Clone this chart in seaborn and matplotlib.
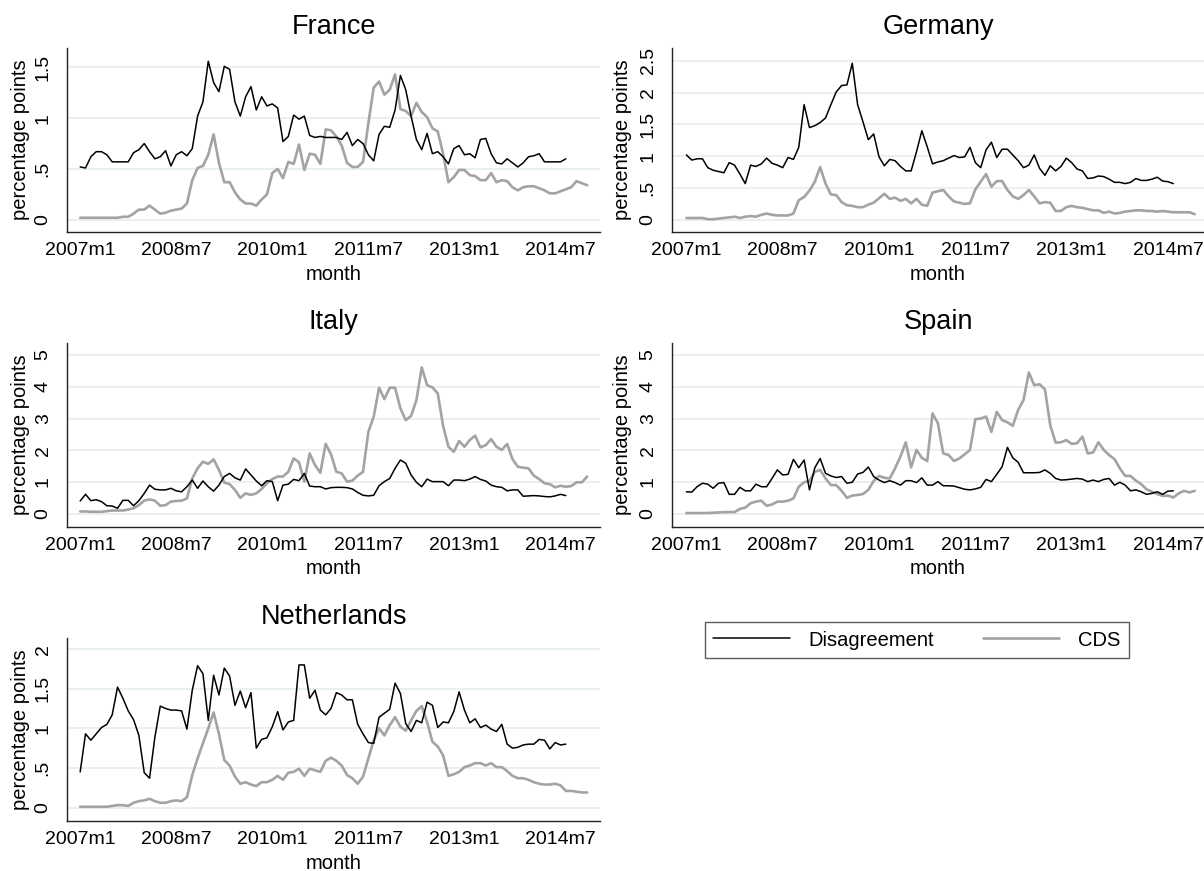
import numpy as np
import pandas as pd
import matplotlib
matplotlib.use("Agg")
import matplotlib.pyplot as plt
from matplotlib.lines import Line2D
import seaborn as sns

# ---------------- data ----------------
month_labels = ["2007m1", "2008m7", "2010m1", "2011m7", "2013m1", "2014m7"]
month_ticks = [0, 18, 36, 54, 72, 90]

france_dis = [.52,.51,.62,.67,.67,.64,.57,.57,.57,.57,
              .66,.69,.75,.67,.60,.62,.68,.53,.64,.67,
              .63,.70,1.02,1.16,1.56,1.35,1.26,1.51,1.48,1.16,
              1.02,1.21,1.31,1.08,1.21,1.12,1.14,1.10,.77,.82,
              1.03,.99,1.02,.83,.81,.82,.81,.81,.81,.79,
              .86,.73,.79,.75,.64,.58,.84,.92,.91,1.08,
              1.42,1.28,1.02,.79,.69,.85,.65,.67,.62,.55,
              .70,.73,.64,.65,.61,.79,.80,.65,.56,.55,
              .60,.56,.52,.56,.62,.63,.65,.57,.57,.57,
              .57,.60]
france_cds = [.02,.02,.02,.02,.02,.02,.02,.02,.03,.03,
              .06,.10,.10,.14,.10,.06,.07,.09,.10,.11,
              .16,.39,.51,.53,.64,.84,.56,.37,.37,.27,
              .20,.16,.16,.14,.20,.25,.46,.50,.41,.57,
              .55,.74,.49,.65,.64,.55,.89,.88,.82,.73,
              .56,.52,.52,.57,.95,1.30,1.36,1.23,1.28,1.43,
              1.09,1.07,1.02,1.15,1.06,1.01,.90,.87,.65,.37,
              .42,.49,.49,.44,.43,.39,.39,.46,.37,.39,
              .38,.32,.29,.32,.33,.33,.31,.29,.26,.26,
              .28,.30,.32,.38,.36,.34]

germany_dis = [1.02,.94,.96,.96,.82,.78,.76,.74,.90,.86,
               .72,.57,.86,.84,.88,.97,.89,.86,.82,.98,
               .95,1.14,1.81,1.45,1.48,1.53,1.60,1.81,2.01,2.11,
               2.12,2.46,1.81,1.54,1.26,1.35,.99,.85,.95,.93,
               .84,.77,.77,1.07,1.40,1.15,.88,.91,.93,.97,
               1.01,.98,.99,1.14,.90,.82,1.10,1.22,.98,1.11,
               1.11,1.02,.93,.82,.86,1.02,.81,.70,.85,.77,
               .84,.97,.90,.80,.77,.65,.66,.69,.68,.64,
               .59,.59,.57,.59,.65,.62,.62,.64,.67,.61,
               .60,.57]
germany_cds = [.03,.03,.03,.03,.01,.01,.02,.03,.04,.05,
               .03,.05,.06,.05,.08,.10,.08,.07,.07,.07,
               .10,.31,.36,.46,.60,.83,.57,.40,.39,.28,
               .23,.22,.20,.20,.24,.27,.34,.41,.33,.35,
               .30,.33,.26,.33,.24,.22,.43,.45,.47,.37,
               .29,.27,.25,.26,.48,.60,.72,.52,.61,.61,
               .47,.37,.33,.39,.47,.37,.26,.28,.27,.14,
               .14,.20,.22,.20,.19,.17,.15,.15,.11,.13,
               .10,.11,.13,.14,.15,.15,.14,.14,.13,.14,
               .13,.12,.12,.12,.12,.09]

italy_dis = [.40,.61,.41,.44,.38,.25,.24,.17,.42,.42,
             .25,.41,.64,.90,.77,.75,.75,.80,.72,.69,
             .85,1.06,.80,1.03,.85,.71,.90,1.17,1.27,1.13,
             1.06,1.41,1.22,1.03,.88,1.04,1.01,.41,.90,.93,
             1.08,1.04,1.27,.87,.85,.85,.78,.82,.83,.83,
             .82,.78,.67,.58,.56,.58,.88,1.01,1.11,1.43,
             1.69,1.59,1.22,.99,.85,1.09,1.01,1.01,1.01,.88,
             1.06,1.06,1.04,1.09,1.17,1.08,1.03,.90,.85,.83,
             .72,.75,.75,.55,.56,.57,.56,.54,.53,.56,
             .61,.57]
italy_cds = [.07,.07,.06,.06,.06,.08,.10,.10,.10,.13,
             .17,.27,.41,.45,.41,.25,.27,.38,.40,.41,
             .48,1.11,1.43,1.64,1.57,1.71,1.38,.98,.93,.75,
             .50,.64,.59,.64,.78,.96,1.09,1.17,1.17,1.32,
             1.74,1.62,1.01,1.90,1.53,1.29,2.20,1.87,1.32,1.27,
             1.01,1.04,1.20,1.32,2.58,3.06,3.97,3.61,3.97,3.97,
             3.32,2.95,3.08,3.58,4.61,4.05,3.98,3.79,2.77,2.11,
             1.95,2.29,2.11,2.32,2.46,2.09,2.16,2.35,2.11,2.01,
             2.20,1.72,1.48,1.45,1.43,1.20,1.09,.96,.93,.83,
             .88,.85,.87,.99,.99,1.17]

spain_dis = [.69,.68,.85,.96,.93,.80,.96,.98,.61,.61,
             .83,.72,.72,.93,.85,.85,1.11,1.38,1.22,1.24,
             1.71,1.45,1.69,.75,1.45,1.74,1.27,1.19,1.14,1.17,
             .96,.99,1.25,1.30,1.47,1.17,1.06,.98,1.04,.98,
             .90,1.04,1.04,.98,1.13,.90,.90,1.01,.88,.88,
             .87,.82,.77,.75,.78,.83,1.08,1.01,1.24,1.48,
             2.09,1.76,1.62,1.29,1.29,1.29,1.30,1.38,1.27,1.11,
             1.06,1.07,1.09,1.11,1.09,1.01,1.06,1.01,1.08,1.11,
             .90,.99,.90,.72,.75,.69,.61,.64,.69,.61,
             .71,.72]
spain_cds = [.02,.02,.02,.02,.02,.03,.04,.05,.05,.05,
             .15,.19,.33,.38,.41,.25,.29,.38,.38,.41,
             .48,.85,.99,1.03,1.32,1.38,1.11,.90,.90,.72,
             .50,.57,.59,.62,.75,1.03,1.19,1.13,1.11,1.43,
             1.80,2.25,1.46,2.01,1.76,1.66,3.16,2.85,1.90,1.85,
             1.66,1.74,1.87,2.01,2.98,3.00,3.06,2.58,3.21,2.95,
             2.88,2.77,3.27,3.58,4.45,4.05,4.08,3.92,2.79,2.24,
             2.25,2.32,2.20,2.22,2.43,1.90,1.93,2.25,2.01,1.85,
             1.72,1.43,1.19,1.19,1.04,.93,.77,.69,.62,.56,
             .57,.51,.64,.72,.67,.72]

nl_dis = [.45,.93,.85,.93,1.01,1.05,1.17,1.52,1.38,1.22,
          1.11,.91,.44,.37,.89,1.28,1.25,1.23,1.23,1.22,
          .99,1.48,1.79,1.69,1.10,1.67,1.42,1.76,1.66,1.29,
          1.47,1.26,1.45,.75,.86,.88,1.02,1.21,.98,1.08,
          1.10,1.80,1.80,1.38,1.48,1.23,1.17,1.25,1.45,1.42,
          1.36,1.36,1.05,.93,.82,.81,1.14,1.19,1.24,1.57,
          1.44,1.06,.96,1.10,1.07,1.33,1.29,1.01,1.08,1.07,
          1.21,1.46,1.23,1.07,1.12,1.01,1.04,.99,.96,1.05,
          .80,.75,.76,.79,.80,.80,.86,.85,.74,.82,
          .79,.80]
nl_cds = [.01,.01,.01,.01,.01,.01,.02,.03,.03,.02,
          .06,.08,.09,.11,.08,.06,.06,.08,.09,.08,
          .13,.41,.62,.81,1.00,1.20,.93,.60,.53,.39,
          .30,.32,.29,.27,.32,.32,.35,.40,.35,.44,
          .45,.49,.40,.49,.47,.45,.59,.63,.59,.53,
          .41,.37,.30,.39,.62,.85,1.00,.91,1.04,1.14,
          1.02,.97,1.10,1.22,1.28,1.08,.83,.77,.66,.40,
          .42,.45,.51,.53,.56,.56,.53,.56,.51,.51,
          .46,.40,.37,.37,.35,.32,.30,.29,.29,.30,
          .28,.21,.21,.20,.19,.19]

countries = ["France", "Germany", "Italy", "Spain", "Netherlands"]
dis_series = [france_dis, germany_dis, italy_dis, spain_dis, nl_dis]
cds_series = [france_cds, germany_cds, italy_cds, spain_cds, nl_cds]

ytick_sets = [
    ([0, .5, 1, 1.5], ["0", ".5", "1", "1.5"]),
    ([0, .5, 1, 1.5, 2, 2.5], ["0", ".5", "1", "1.5", "2", "2.5"]),
    ([0, 1, 2, 3, 4, 5], ["0", "1", "2", "3", "4", "5"]),
    ([0, 1, 2, 3, 4, 5], ["0", "1", "2", "3", "4", "5"]),
    ([0, .5, 1, 1.5, 2], ["0", ".5", "1", "1.5", "2"]),
]
ylims = [(-0.12, 1.69), (-0.19, 2.70), (-0.42, 5.38), (-0.42, 5.38), (-0.17, 2.14)]

# ---------------- style ----------------
sns.set_theme(style="white")
plt.rcParams['font.family'] = ['Liberation Sans', 'DejaVu Sans']
plt.rcParams['text.color'] = 'black'
plt.rcParams['axes.labelcolor'] = 'black'

W, H = 1204, 871
fig = plt.figure(figsize=(W / 100, H / 100), dpi=100)
fig.patch.set_facecolor("white")

# panel boxes in pixels: left, top, right, bottom
boxes = [(67, 48, 600, 232), (672, 48, 1204, 232),
         (67, 343, 600, 527), (672, 343, 1204, 527),
         (67, 638, 600, 821)]
xlims = [(-2.47, 97.4), (-2.69, 96.73), (-2.47, 97.4), (-2.69, 96.73), (-2.47, 97.4)]
ylabel_x = [21, 623, 21, 623, 21]

DIS_COLOR = "#000000"
CDS_COLOR = "#a3a3a3"
GRID_COLOR = "#e6eff1"
TICK_FS = 14
LABEL_FS = 14.5
TITLE_FS = 19.5

for i, name in enumerate(countries):
    l, t, r, b = boxes[i]
    ax = fig.add_axes([l / W, 1 - b / H, (r - l) / W, (b - t) / H])
    ax.set_facecolor("white")

    df_dis = pd.DataFrame({"month": np.arange(len(dis_series[i])), "value": dis_series[i]})
    df_cds = pd.DataFrame({"month": np.arange(len(cds_series[i])), "value": cds_series[i]})

    sns.lineplot(data=df_cds, x="month", y="value", ax=ax, color=CDS_COLOR,
                 linewidth=1.9, zorder=3)
    sns.lineplot(data=df_dis, x="month", y="value", ax=ax, color=DIS_COLOR,
                 linewidth=1.1, zorder=4)

    ax.set_xlim(*xlims[i])
    ax.set_ylim(*ylims[i])
    ax.set_xticks(month_ticks)
    ax.set_xticklabels(month_labels, fontsize=TICK_FS)
    yt, yl = ytick_sets[i]
    ax.set_yticks(yt)
    ax.set_yticklabels(yl, fontsize=TICK_FS, rotation=90, va="center")
    for v in yt:
        ax.axhline(v, color=GRID_COLOR, linewidth=1.3, zorder=1)

    for s in ["top", "right"]:
        ax.spines[s].set_visible(False)
    for s in ["left", "bottom"]:
        ax.spines[s].set_color("#222222")
        ax.spines[s].set_linewidth(1.0)
    ax.tick_params(axis="both", which="major", direction="out", length=5,
                   width=1.0, color="#222222", labelcolor="black")
    ax.tick_params(axis="x", pad=2)
    ax.tick_params(axis="y", pad=6)

    ax.set_xlabel("month", fontsize=LABEL_FS)
    ax.set_ylabel("percentage points", fontsize=LABEL_FS)
    ax.xaxis.set_label_coords(0.5, -42 / (b - t))
    ax.xaxis.label.set_verticalalignment("center")
    ax.yaxis.set_label_coords(-(l - ylabel_x[i]) / (r - l), 0.5)
    ax.yaxis.label.set_verticalalignment("center")

    cx = (l + r) / 2
    fig.text(cx / W, 1 - (t - 21) / H, name, fontsize=TITLE_FS, ha="center",
             va="center", color="black")

# legend
handles = [Line2D([0], [0], color=DIS_COLOR, linewidth=1.1),
           Line2D([0], [0], color=CDS_COLOR, linewidth=1.9)]
leg = fig.legend(handles, ["Disagreement", "CDS"], loc="center",
                 bbox_to_anchor=(917 / W, 1 - 640 / H), ncol=2, fontsize=LABEL_FS,
                 frameon=True, fancybox=False, handlelength=3.8,
                 handletextpad=0.95, columnspacing=2.4, borderpad=0.4)
leg.get_frame().set_edgecolor("#333333")
leg.get_frame().set_linewidth(1.0)
for txt in leg.get_texts():
    txt.set_color("black")

fig.savefig("out.png", dpi=100, facecolor="white")
